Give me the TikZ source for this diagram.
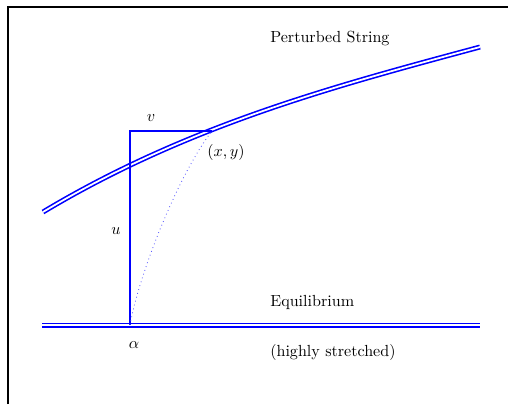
\documentclass[tikz,border=0pt]{standalone}
\begin{document}
\begin{tikzpicture}[x=0.622pt,y=-0.622pt,
  string/.style={blue,line width=1pt,double,double distance=1.1pt},
  arm/.style={blue,line width=.65pt}]
\useasboundingbox (0,0) rectangle (508,404);
\draw[line width=.8pt] (8,404)--(8,7)--(508,7);
\coordinate (alpha) at (130,325); \coordinate (corner) at (130,131); \coordinate (xy) at (212,131);
\draw[string] (42,325)--(480,325);
\draw[string] (43,212) .. controls (188,125) and (335,86) .. (480,47);
\draw[arm] (alpha)--(corner)--(xy);
\draw[blue!70,dotted,line width=.5pt] (alpha) .. controls (140,270) and (180,172) .. (xy);
\node (v) at (151,118) {$v$};
\node (u) at (116,231) {$u$};
\node (a) at (134,345) {$\alpha$};
\node[anchor=west,inner sep=0pt] (p) at (207,152) {$(x,y)$};
\node[anchor=west,inner sep=0pt] (ps) at (270,38) {Perturbed String};
\node[anchor=west,inner sep=0pt] (eq) at (270,302) {Equilibrium};
\node[anchor=west,inner sep=0pt] (hs) at (270,352) {(highly stretched)};
\end{tikzpicture}
\end{document}
